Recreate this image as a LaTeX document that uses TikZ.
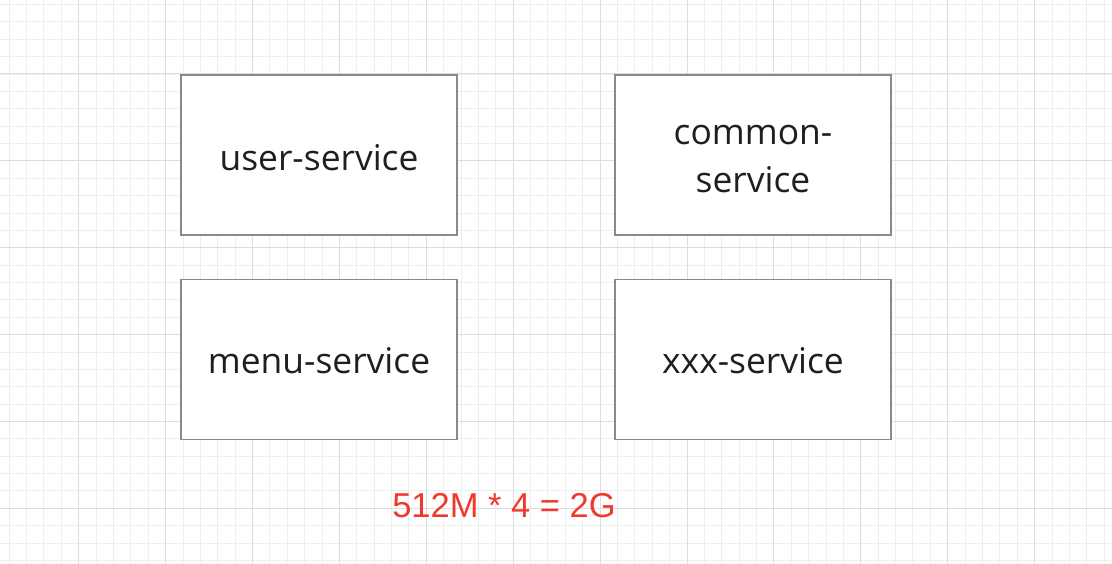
\documentclass[tikz,border=0pt]{standalone}
\usepackage{fontspec}
\setmainfont{Open Sans}
\newfontfamily\redfont{Liberation Sans}
\definecolor{minorgrid}{HTML}{EEEEEE}
\definecolor{majorgrid}{HTML}{DDDDDD}
\definecolor{boxline}{HTML}{8A8A8A}
\definecolor{notered}{HTML}{F0382C}
\begin{document}
\begin{tikzpicture}[x=1pt,y=-1pt,
  svcbox/.style={draw=boxline,line width=1.3pt,fill=white,minimum width=276pt,minimum height=160pt,
    inner sep=0pt,align=center,text=black!88,font=\fontsize{35.4}{48}\selectfont},
  notetext/.style={text=notered,font=\redfont\fontsize{34.5}{40}\selectfont,inner sep=0pt}]
\useasboundingbox (0,0) rectangle (1112,564);
\fill[white] (0,0) rectangle (1112,564);
% minor grid
\foreach \i in {0,...,64} {
  \draw[minorgrid,line width=1pt] ({9.2+17.38*\i},0) -- ({9.2+17.38*\i},564);
}
\foreach \j in {0,...,32} {
  \draw[minorgrid,line width=1pt] (0,{4.6+17.37*\j}) -- (1112,{4.6+17.37*\j});
}
% major grid
\foreach \i in {0,...,12} {
  \draw[majorgrid,line width=1pt] ({-8.2+86.9*\i},0) -- ({-8.2+86.9*\i},564);
}
\foreach \j in {0,...,6} {
  \draw[majorgrid,line width=1pt] (0,{-12.85+86.85*\j}) -- (1112,{-12.85+86.85*\j});
}
\node[svcbox] (user) at (319,155) {};
\node[svcbox] (common) at (753,155) {};
\node[svcbox] (menu) at (319,359.5) {};
\node[svcbox] (xxx) at (753,359.5) {};
\node[svcbox,draw=none,fill=none] at ([yshift=-2.5pt]user.center) {user-service};
\node[svcbox,draw=none,fill=none] at ([yshift=-4pt]common.center) {common-\\service};
\node[svcbox,draw=none,fill=none] at ([yshift=-1pt]menu.center) {menu-service};
\node[svcbox,draw=none,fill=none] at ([yshift=-1pt]xxx.center) {xxx-service};
\node[notetext,anchor=base] (note) at (504,517) {512M * 4 = 2G};
\end{tikzpicture}
\end{document}
